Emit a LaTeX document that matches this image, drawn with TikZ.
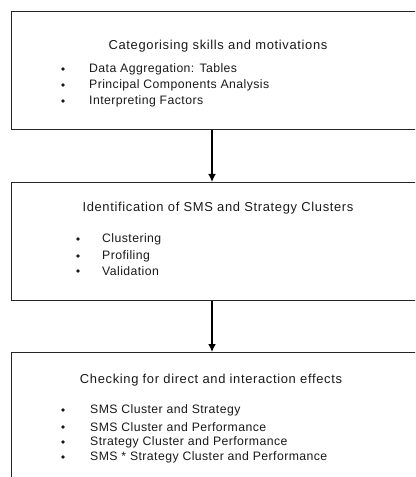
\documentclass[tikz,border=0pt]{standalone}
\usepackage{fontspec}
\setmainfont{Liberation Sans}
\newfontfamily\headfont[LetterSpace=5]{Liberation Sans}
\newfontfamily\itemfont[LetterSpace=3.5]{Liberation Sans}
\usetikzlibrary{arrows.meta}
\begin{document}
\begin{tikzpicture}[x=1bp,y=-1bp,
  stage/.style={draw=black!85, line width=1.1bp, rectangle, anchor=north west,
    minimum width=420bp, inner sep=0pt},
  heading/.style={inner sep=0pt, font=\headfont\fontsize{13}{15}\selectfont, text=black!90},
  item/.style={inner sep=0pt, anchor=west, font=\itemfont\fontsize{12.3}{14}\selectfont, text=black!90},
  dot/.style={circle, fill=black!90, inner sep=0pt, minimum size=3.8bp},
  flow/.style={line width=1.8bp, -{Latex[length=8bp,width=8bp]}}]
\useasboundingbox (0,0) rectangle (415,477);
\clip (0,0) rectangle (415,477);

% the three stages
\node[stage, minimum height=118bp] (s1) at (11,11) {};
\node[stage, minimum height=118bp] (s2) at (11,182) {};
\node[stage, minimum height=140bp] (s3) at (11,352) {};

% stage 1
\node[heading] (t1) at (218,46) {Categorising skills and motivations};
\node[dot] (b11) at (63,69) {};
\node[dot] (b12) at (63,85) {};
\node[dot] (b13) at (63,101) {};
\node[item] (i11) at (89,69) {Data Aggregation: Tables};
\node[item] (i12) at (89,85) {Principal Components Analysis};
\node[item] (i13) at (89,101) {Interpreting Factors};

% stage 2
\node[heading] (t2) at (218,208) {Identification of SMS and Strategy Clusters};
\node[dot] (b21) at (78,239) {};
\node[dot] (b22) at (78,256) {};
\node[dot] (b23) at (78,271) {};
\node[item] (i21) at (102,239) {Clustering};
\node[item] (i22) at (102,256) {Profiling};
\node[item] (i23) at (102,271) {Validation};

% stage 3
\node[heading] (t3) at (211,380) {Checking for direct and interaction effects};
\node[dot] (b31) at (63,410) {};
\node[dot] (b32) at (63,427) {};
\node[dot] (b33) at (63,442) {};
\node[dot] (b34) at (63,457) {};
\node[item] (i31) at (90,410) {SMS Cluster and Strategy};
\node[item] (i32) at (90,427) {SMS Cluster and Performance};
\node[item] (i33) at (90,442) {Strategy Cluster and Performance};
\node[item] (i34) at (90,457) {SMS * Strategy Cluster and Performance};

% connectors between the stages
\coordinate (axis) at (212,0);
\draw[flow] (s1.south -| axis) -- (s2.north -| axis);
\draw[flow] (s2.south -| axis) -- (s3.north -| axis);
\end{tikzpicture}
\end{document}
